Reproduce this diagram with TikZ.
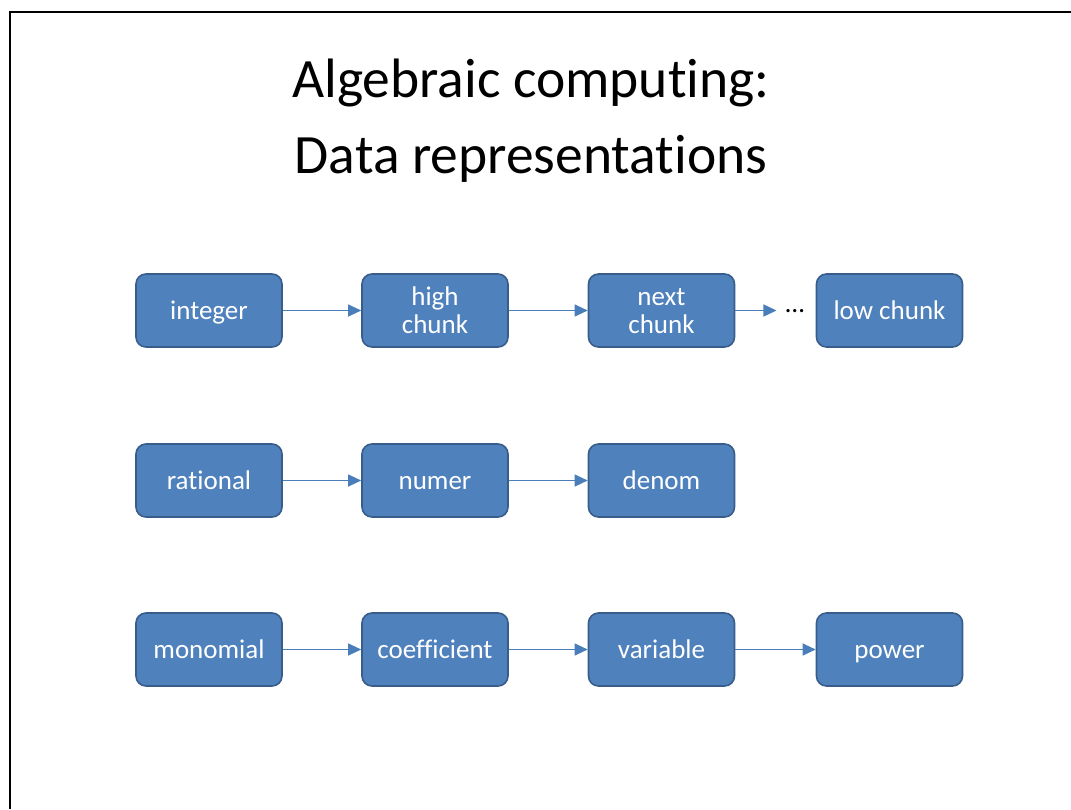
\documentclass[tikz,border=0pt]{standalone}
\usepackage{fontspec}
\setmainfont[Ligatures=NoCommon]{Carlito}
\usepackage{tikz}
\usetikzlibrary{arrows.meta}
\definecolor{boxfill}{HTML}{4F81BD}
\definecolor{boxline}{HTML}{385D8A}
\definecolor{linkcol}{HTML}{4A7EBB}
\tikzset{blockbox/.style = {draw=boxline, fill=boxfill, line width=1.6pt,
                            rounded corners=10pt, text=white,
                            minimum width=146pt, minimum height=73pt,
                            align=center, inner sep=2pt,
                            text height=23pt, text depth=5.4pt,
                            font=\fontsize{27}{28}\selectfont},
         twoline/.style = {text height=50.8pt},
         link/.style = {draw=linkcol, line width=1.1pt,
                        -{Triangle[length=13pt,width=12pt]}},
         headline/.style = {anchor=base, font=\fontsize{55.5}{66}\selectfont}}

\begin{document}
\begin{tikzpicture}[x=1pt, y=-1pt]
  \useasboundingbox (0,0) rectangle (1071,809);
  \draw [line width=2.6pt] (10,809) -- (10,12) -- (1071,12);
  % title
  \node [headline] (title1) at (531,97) {Algebraic computing:};
  \node [headline] (title2) at (531,173) {Data representations};
    % integers
    \node [blockbox] (integer) at (209,310.5) {integer};
    \node [blockbox, twoline] (high) at (435,310.5) {high\\chunk};
    \node [blockbox, twoline] (next) at (661.5,310.5) {next\\chunk};
    \node [inner xsep=9pt, inner ysep=0pt, font=\fontsize{27}{28}\selectfont] (dots) at (795,311) {\ldots};
    \node [blockbox] (low) at (889.5,310.5) {low chunk};
    \draw [link] (integer) -- (high);
    \draw [link] (high) -- (next);
    \draw [link] (next.east) -- (dots.west |- next.east);
    % rationals
    \node [blockbox] (rational) at (209,480.5) {rational};
    \node [blockbox] (numer) at (435,480.5) {numer};
    \node [blockbox] (denom) at (661.5,480.5) {denom};
    \draw [link] (rational) -- (numer);
    \draw [link] (numer) -- (denom);
    % monomials
    \node [blockbox] (monomial) at (209,649.5) {monomial};
    \node [blockbox] (coeff) at (435,649.5) {coefficient};
    \node [blockbox] (var) at (661.5,649.5) {variable};
    \node [blockbox] (power) at (889.5,649.5) {power};
    \draw [link] (monomial) -- (coeff);
    \draw [link] (coeff) -- (var);
    \draw [link] (var) -- (power);
  \end{tikzpicture}
\end{document}
